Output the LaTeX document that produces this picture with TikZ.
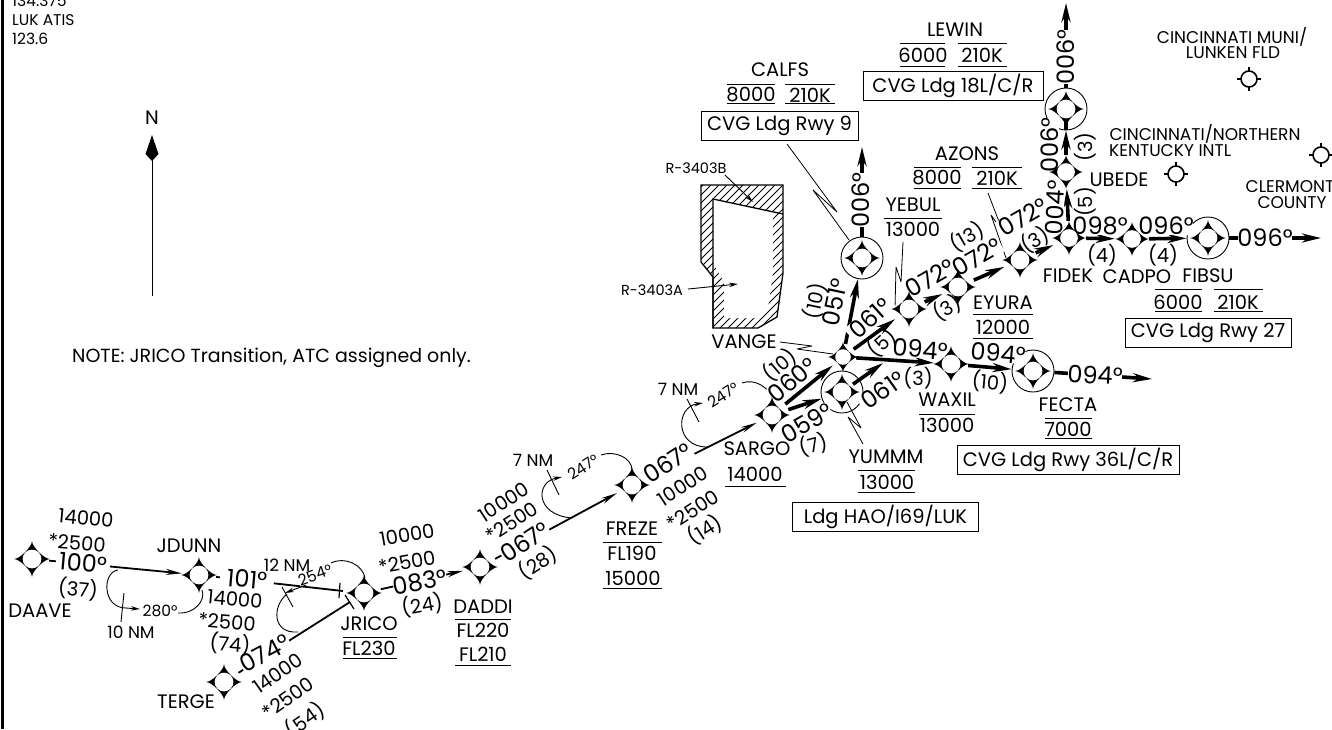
\documentclass[tikz,border=0pt]{standalone}
\usepackage{fontspec}
\setmainfont{Poppins}
\usepackage{tikz}
\usetikzlibrary{arrows.meta}
\newcommand{\hdglist}{83/563/-5/100°,247/579/-5/101°,265/653/28/074°,420/582/10/083°,
    525/542/33/067°,668/463/33/067°,792/380/40/060°,807/423/30/059°,835/302/78/051°,861/200/90/006°,
    870/318/42/061°,883/390/35/061°,920/349/-5/094°,998/353/-5/094°,1095/375/-3/094°,930/278/30/072°,
    977/257/30/072°,1023/217/30/072°,1055/208/87/004°,1050/145/90/006°,1066/57/90/006°,1100/226/0/098°,
    1166/226/0/096°,1265/238/0/096°}

\begin{document}
\begin{tikzpicture}[x=1pt,y=-1pt,
  fixnode/.style={circle,minimum size=34pt,inner sep=0pt},
  vangenode/.style={circle,minimum size=26pt,inner sep=0pt},
  bigfixnode/.style={circle,minimum size=42pt,inner sep=0pt,draw,line width=0.9pt},
  heavyleg/.style={line width=3.6pt,-{Stealth[length=19pt,width=9pt]}},
  thinleg/.style={line width=1.8pt,-{Stealth[length=16pt,width=6pt]}},
  holdline/.style={line width=0.9pt},
  holdarrow/.style={line width=0.9pt,-{Stealth[length=9pt,width=4.5pt]}},
  leaderline/.style={line width=0.8pt,line join=bevel},
  ruleline/.style={line width=1pt},
  hdgback/.style={fill=white,inner sep=0pt,minimum width=54pt,minimum height=18pt},
  hdglabel/.style={font=\fontsize{24}{26}\selectfont,inner sep=0.5pt},
  altlabel/.style={font=\fontsize{19.5}{21}\selectfont,inner sep=0pt},
  namelabel/.style={font=\fontsize{19.5}{21}\selectfont,inner sep=0pt},
  smalllabel/.style={font=\fontsize{15.5}{17}\selectfont,inner sep=0pt},
  sitelabel/.style={font=\fontsize{17}{19}\selectfont,inner sep=0pt},
  boxlabel/.style={draw,line width=1pt,font=\fontsize{19.5}{21}\selectfont,inner sep=0pt,minimum height=29pt}
]
\useasboundingbox (0,0) rectangle (1332,729);

% the frame and the north arrow
\draw[line width=2.6pt] (2.5,0) -- (2.5,729);
\node[smalllabel,anchor=west] (freqa) at (12,1) {134.375};
\node[smalllabel,anchor=west] (freqb) at (12,20) {LUK ATIS};
\node[smalllabel,anchor=west] (freqc) at (12,39) {123.6};
\node[namelabel] (north) at (152,118) {N};
\draw[line width=0.9pt] (152,158) -- (152,296);
\fill (152,135) -- (158.5,154) -- (152,161) -- (145.5,154) -- cycle;
\node[namelabel,anchor=west,font=\fontsize{19}{21}\selectfont] (note) at (72,358) {NOTE: JRICO Transition, ATC assigned only.};

% the fixes
\foreach \n/\x/\y in {daave/32/559,jdunn/199/575,jrico/364/593,terge/224/682,daddi/480/567,
    freze/632/485,sargo/772/415,yebul/909/309,eyura/958/287,waxil/951/364,azons/1020/260,
    fidek/1069/238,cadpo/1132/239,ubede/1066/172}
    \node[fixnode] (\n) at (\x,\y) {};
\foreach \n/\x/\y in {yummm/842/392,calfs/862/258,fecta/1033/371,fibsu/1208/238,lewin/1066/109}
    \node[bigfixnode] (\n) at (\x,\y) {};
\node[vangenode] (vange) at (843,357) {};

% the free ends
\coordinate (jdunnend) at (343,591);
\coordinate (tergeend) at (350,602);
\coordinate (calfsout) at (862,147);
\coordinate (lewinout) at (1066,3);
\coordinate (fibsuout) at (1321,238);
\coordinate (fectaout) at (1152,379);
\coordinate (yummmout) at (883,363);

% the thin legs
\draw[thinleg] (daave) -- (jdunn);
\draw[line width=1.8pt] (jdunn) -- (jdunnend);
\draw[line width=1.8pt] (terge) -- (tergeend);
\draw[thinleg] (jrico) -- (daddi);
\draw[thinleg] (daddi) -- (freze);
\draw[thinleg] (freze) -- (sargo);
\draw[line width=1.2pt] (340,583) -- (339,598);
\draw[line width=1.2pt] (345,595) -- (354,609);

% the heavy legs
\draw[heavyleg] (sargo) -- (vange);
\draw[heavyleg] (sargo) -- (yummm);
\draw[heavyleg,shorten <=-8pt] (yummm) -- (yummmout);
\draw[heavyleg] (vange) -- (calfs);
\draw[heavyleg] (vange) -- (yebul);
\draw[heavyleg] (vange) -- (waxil);
\draw[heavyleg] (waxil) -- (fecta);
\draw[heavyleg] (yebul) -- (eyura);
\draw[heavyleg] (eyura) -- (azons);
\draw[heavyleg] (azons) -- (fidek);
\draw[heavyleg] (fidek) -- (ubede);
\draw[heavyleg] (ubede) -- (lewin);
\draw[line width=3.6pt] (lewin.center) -- (lewin.south);
\draw[heavyleg] (fidek) -- (cadpo);
\draw[heavyleg] (cadpo) -- (fibsu);
\draw[heavyleg] (calfs) -- (calfsout);
\draw[heavyleg] (lewin) -- (lewinout);
\draw[heavyleg] (fibsu) -- (fibsuout);
\draw[heavyleg] (fecta) -- (fectaout);

% the holding patterns
\draw[holdarrow] (118,570) .. controls (102,572) and (102,608) .. (126,608) -- (140,609);
\draw[holdline] (178,613) .. controls (195,614) and (206,600) .. (202,590);
\draw[holdline] (124,593) -- (121,622);
\draw[holdarrow] (306,585) -- (285,593);
\draw[holdline] (287,594) .. controls (272,606) and (272,634) .. (298,632);
\draw[holdline] (331,563) .. controls (345,556) and (363,565) .. (365,578);
\draw[holdline] (282,587) -- (293,607);
\draw[holdarrow] (572,518) .. controls (535,515) and (535,482) .. (562,477);
\draw[holdline] (601,455) .. controls (615,450) and (632,458) .. (632,470);
\draw[holdline] (547,470) -- (559,495);
\draw[holdarrow] (707,447) .. controls (675,447) and (675,407) .. (703,403);
\draw[holdline] (742,383) .. controls (755,378) and (770,388) .. (773,400);
\draw[holdline] (687,399) -- (699,422);

% the leaders
\draw[leaderline] (780,342) -- (812,346) -- (797,349) -- (833,354);
\draw[leaderline] (787,144) -- (837,212) -- (813,190) -- (849,240);
\draw[leaderline] (903,242) -- (901,282) -- (896,267) -- (895,308);
\draw[leaderline] (988,193) -- (1003,232) -- (991,215) -- (1006,258);
\draw[leaderline] (847,402) -- (861,428) -- (848,417) -- (863,444);

% the restricted area
\begin{scope}
\clip (701,185) -- (783,185) -- (783,273) -- (777,317) -- (758,328) -- (713,328) -- (713,277) -- (701,262) -- cycle;
\foreach \c in {880,888,...,1120}
    \draw[line width=0.8pt] (\c-170,170) -- (\c-340,340);
\fill[white] (713,199) -- (773,212) -- (773,273) -- (768,308) -- (755,318) -- (724,318) -- (724,282) -- (713,263) -- cycle;
\end{scope}
\draw[line width=1.3pt] (713,328) -- (713,199) -- (783,214);
\draw[line width=1.3pt] (701,185) -- (783,185) -- (783,273) -- (777,317) -- (758,328) -- (713,328) -- (713,277) -- (701,262) -- cycle;
\node[smalllabel,font=\fontsize{14.5}{16}\selectfont] (restrb) at (696,168) {R-3403B};
\node[smalllabel,font=\fontsize{14.5}{16}\selectfont] (restra) at (652,290) {R-3403A};
\draw[holdarrow] (restrb) ++(29,7) -- (753,202);
\draw[holdarrow] (restra) ++(36,-1) -- (738,284);

% the headings, first their white ground
\foreach \x/\y/\r/\t [count=\i] in \hdglist
    \node[hdgback,rotate=\r] (hdgback\i) at (\x,\y) {};
\foreach \x/\y/\r/\t [count=\i] in \hdglist
    \node[hdglabel,rotate=\r] (hdg\i) at (\x,\y) {\t};

% the altitudes and distances
\foreach \x/\y/\r/\t [count=\i] in {86/518/-5/14000,77/543/-5/*2500,78/589/-5/(37),235/599/-5/14000,
    227/622/-5/*2500,230/644/-5/(74),278/673/35/14000,288/698/35/*2500,305/720/35/(54),407/535/10/10000,
    407/562/10/*2500,422/605/10/(24),504/502/33/10000,512/522/33/*2500,538/563/33/(28),683/486/33/10000,
    693/510/33/*2500,705/530/33/(14),813/445/15/(7),780/365/40/(10),815/301/78/(10),882/343/42/(5),
    947/308/30/(3),967/237/30/(13),1035/240/30/(3),1085/202/90/(5),1085/147/90/(3),1102/255/0/(4),
    1163/255/0/(4),918/378/0/(3),990/382/-5/(10)}
    \node[altlabel,rotate=\r] (alt\i) at (\x,\y) {\t};

% the names of the fixes
\foreach \x/\y/\t [count=\i] in {40/611/DAAVE,189/546/JDUNN,186/702/TERGE,369/624/JRICO,369/648/FL230,
    632/529/FREZE,632/553/FL190,633/578/15000,757/449/SARGO,755/474/14000,744/342/VANGE,
    947/400/WAXIL,947/425/13000,1068/405/FECTA,1068/429/7000,886/457/YUMMM,887/482/13000,
    780/70/CALFS,751/95/8000,810/95/210K,955/30/LEWIN,923/55/6000,982/55/210K,
    913/205/YEBUL,913/229/13000,967/154/AZONS,937/178/8000,997/178/210K,1003/303/EYURA,1003/327/12000,
    1068/276/FIDEK,1137/277/CADPO,1208/276/FIBSU,1178/302/6000,1238/302/210K,1119/180/UBEDE,
    483/607/DADDI,483/630/FL220,483/654/FL210}
    \node[namelabel] (name\i) at (\x,\y) {\t};

% the rules under the names
\foreach \xa/\xb/\y in {343/397/637,343/397/658,603/662/542,603/662/588,725/786/486,919/975/414,
    1045/1092/418,1045/1092/438,858/915/470,858/915/492,727/775/84,727/775/103,785/835/84,785/835/103,
    900/945/43,900/945/66,958/1007/43,958/1007/66,884/942/218,914/961/167,914/961/188,972/1022/167,
    972/1022/188,973/1033/314,973/1033/338,1155/1202/289,1155/1202/311,1214/1263/289,1214/1263/311,
    455/511/619,455/511/665}
    \draw[ruleline] (\xa,\y) -- (\xb,\y);

% the boxes
\node[boxlabel,minimum width=157pt] (boxcalfs) at (779.5,125.5) {CVG Ldg Rwy 9};
\node[boxlabel,minimum width=180pt] (boxlewin) at (953,85.5) {CVG Ldg 18L/C/R};
\node[boxlabel,minimum width=166pt] (boxfibsu) at (1208,333) {CVG Ldg Rwy 27};
\node[boxlabel,minimum width=222pt] (boxfecta) at (1068,459.5) {CVG Ldg Rwy 36L/C/R};
\node[boxlabel,minimum width=186pt] (boxyummm) at (885.5,517) {Ldg HAO/I69/LUK};

% the airports
\foreach \x/\y in {1249/79,1176/174,1321/155} {
    \draw[line width=1.6pt] (\x,\y) circle [radius=8];
    \draw[line width=1.6pt] (\x-12,\y) -- (\x-8,\y) (\x+8,\y) -- (\x+12,\y) (\x,\y-12) -- (\x,\y-8) (\x,\y+8) -- (\x,\y+12);
}
\node[sitelabel] (cina) at (1232,37) {CINCINNATI MUNI/};
\node[sitelabel] (cinb) at (1233,53) {LUNKEN FLD};
\node[sitelabel] (cinc) at (1205,134) {CINCINNATI/NORTHERN};
\node[sitelabel,anchor=west] (cind) at (1109,151) {KENTUCKY INTL};
\node[sitelabel] (clea) at (1290,187) {CLERMONT};
\node[sitelabel] (cleb) at (1292,203) {COUNTY};
\node[smalllabel] (hna) at (160,611) {280°};
\node[sitelabel] (hnb) at (131,632) {10 NM};
\node[sitelabel] (hnc) at (287,565) {12 NM};
\node[smalllabel,rotate=20,fill=white] (hnd) at (315,575) {254°};
\node[sitelabel] (hne) at (533,460) {7 NM};
\node[smalllabel,rotate=33] (hnf) at (583,467) {247°};
\node[sitelabel] (hng) at (678,389) {7 NM};
\node[smalllabel,rotate=33] (hnh) at (723,395) {247°};

% the stars of the fixes
\foreach \n/\s in {daave/18,jdunn/18,jrico/18,terge/18,daddi/18,freze/18,sargo/18,yebul/18,eyura/18,
    waxil/18,azons/18,fidek/17,cadpo/17,ubede/17,yummm/18,calfs/18,fecta/18,fibsu/18,lewin/18,vange/15} {
    \fill[shift={(\n.center)}] (0,-\s) .. controls (0,-0.68*\s) and (0.68*\s,0) .. (\s,0)
        .. controls (0.68*\s,0) and (0,0.68*\s) .. (0,\s)
        .. controls (0,0.68*\s) and (-0.68*\s,0) .. (-\s,0)
        .. controls (-0.68*\s,0) and (0,-0.68*\s) .. cycle;
    \fill[white,shift={(\n.center)}] (0,0) circle [radius=0.52*\s];
}

\end{tikzpicture}
\end{document}
